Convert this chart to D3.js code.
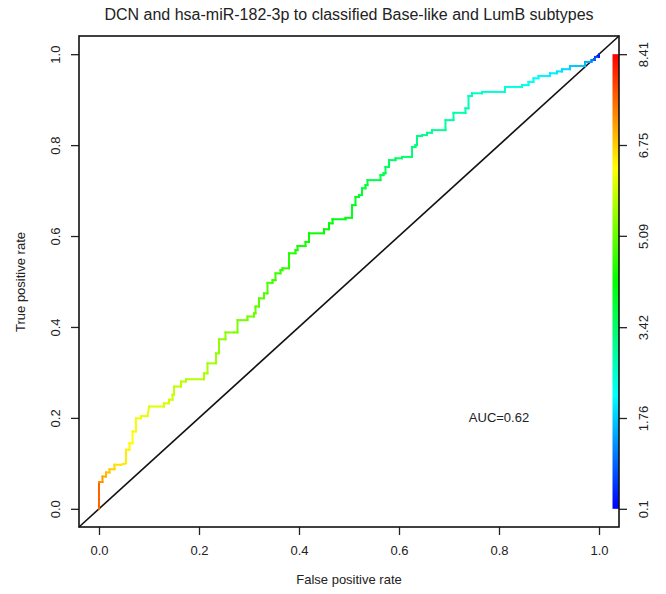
<!DOCTYPE html>
<html>
<head>
<meta charset="utf-8">
<script src="https://cdn.jsdelivr.net/npm/d3@7"></script>
<style>
  body { margin: 0; background: #fff; }
  svg text { font-family: "Liberation Sans", Arial, sans-serif; fill: #222; }
</style>
</head>
<body>
<svg width="666" height="594"></svg>
<script>
// ROC points (fpr, tpr, cutoff at each vertex)
const fpr = [0, 0, 0.007, 0.007, 0.014, 0.014, 0.021, 0.021, 0.031, 0.031,
  0.044, 0.054, 0.054, 0.061, 0.061, 0.067, 0.067, 0.074, 0.074, 0.084,
  0.084, 0.097, 0.100, 0.130, 0.130, 0.140, 0.140, 0.147, 0.147, 0.150,
  0.150, 0.164, 0.164, 0.174, 0.174, 0.210, 0.210, 0.217, 0.217, 0.234,
  0.234, 0.240, 0.240, 0.253, 0.253, 0.270, 0.277, 0.277, 0.297, 0.297,
  0.310, 0.310, 0.313, 0.313, 0.320, 0.320, 0.330, 0.330, 0.337, 0.337,
  0.347, 0.347, 0.353, 0.353, 0.363, 0.363, 0.367, 0.367, 0.380, 0.380,
  0.393, 0.393, 0.397, 0.397, 0.413, 0.413, 0.420, 0.420, 0.450, 0.450,
  0.460, 0.460, 0.467, 0.467, 0.493, 0.493, 0.506, 0.506, 0.513, 0.513,
  0.520, 0.520, 0.526, 0.526, 0.533, 0.533, 0.537, 0.537, 0.563, 0.563,
  0.569, 0.569, 0.573, 0.573, 0.580, 0.580, 0.593, 0.593, 0.606, 0.606,
  0.626, 0.626, 0.633, 0.633, 0.636, 0.636, 0.646, 0.646, 0.656, 0.656,
  0.666, 0.666, 0.693, 0.693, 0.709, 0.709, 0.733, 0.733, 0.739, 0.739,
  0.746, 0.746, 0.766, 0.766, 0.812, 0.812, 0.846, 0.846, 0.859, 0.859,
  0.869, 0.869, 0.879, 0.879, 0.902, 0.902, 0.916, 0.916, 0.926, 0.926,
  0.942, 0.942, 0.972, 0.972, 0.985, 0.985, 0.992, 0.992, 1.000, 1.000];
const tpr = [0, 0.059, 0.059, 0.071, 0.071, 0.080, 0.080, 0.087, 0.087, 0.097,
  0.097, 0.100, 0.130, 0.130, 0.144, 0.144, 0.170, 0.170, 0.199, 0.199,
  0.204, 0.204, 0.225, 0.225, 0.232, 0.232, 0.240, 0.240, 0.251, 0.251,
  0.269, 0.269, 0.280, 0.280, 0.285, 0.285, 0.298, 0.298, 0.320, 0.320,
  0.342, 0.342, 0.373, 0.373, 0.388, 0.388, 0.388, 0.415, 0.415, 0.423,
  0.423, 0.430, 0.430, 0.445, 0.445, 0.463, 0.463, 0.474, 0.474, 0.497,
  0.497, 0.503, 0.503, 0.518, 0.518, 0.525, 0.525, 0.529, 0.529, 0.562,
  0.562, 0.569, 0.569, 0.578, 0.578, 0.587, 0.587, 0.606, 0.606, 0.615,
  0.615, 0.628, 0.628, 0.637, 0.637, 0.640, 0.640, 0.668, 0.668, 0.686,
  0.686, 0.690, 0.690, 0.705, 0.705, 0.712, 0.712, 0.723, 0.723, 0.734,
  0.734, 0.738, 0.738, 0.752, 0.752, 0.767, 0.767, 0.771, 0.771, 0.774,
  0.774, 0.796, 0.796, 0.800, 0.800, 0.820, 0.820, 0.822, 0.822, 0.827,
  0.827, 0.833, 0.833, 0.855, 0.855, 0.871, 0.871, 0.881, 0.881, 0.908,
  0.908, 0.914, 0.914, 0.917, 0.917, 0.928, 0.928, 0.932, 0.932, 0.939,
  0.939, 0.947, 0.947, 0.952, 0.952, 0.958, 0.958, 0.962, 0.962, 0.967,
  0.967, 0.974, 0.974, 0.983, 0.983, 0.987, 0.987, 0.994, 0.994, 1.000];
const cutoff = [7.9, 7.3, 7.2, 7.1, 7.0, 6.9, 6.8, 6.75, 6.7, 6.6,
  6.55, 6.5, 6.45, 6.4, 6.38, 6.35, 6.3, 6.27, 6.24, 6.2,
  6.17, 6.14, 6.1, 6.05, 6.02, 5.99, 5.96, 5.93, 5.9, 5.88,
  5.85, 5.82, 5.79, 5.76, 5.73, 5.7, 5.66, 5.62, 5.58, 5.54,
  5.5, 5.46, 5.42, 5.38, 5.34, 5.3, 5.27, 5.24, 5.2, 5.17,
  5.14, 5.11, 5.08, 5.05, 5.02, 4.99, 4.96, 4.93, 4.9, 4.87,
  4.84, 4.81, 4.78, 4.75, 4.72, 4.69, 4.66, 4.63, 4.6, 4.57,
  4.54, 4.51, 4.48, 4.45, 4.42, 4.39, 4.36, 4.33, 4.3, 4.27,
  4.24, 4.21, 4.18, 4.15, 4.12, 4.09, 4.06, 4.03, 4.0, 3.97,
  3.94, 3.91, 3.88, 3.85, 3.82, 3.79, 3.76, 3.73, 3.7, 3.67,
  3.64, 3.61, 3.58, 3.55, 3.52, 3.49, 3.46, 3.43, 3.4, 3.37,
  3.34, 3.31, 3.28, 3.25, 3.22, 3.19, 3.16, 3.13, 3.1, 3.07,
  3.04, 3.01, 2.98, 2.95, 2.92, 2.89, 2.86, 2.83, 2.8, 2.76,
  2.72, 2.68, 2.64, 2.6, 2.55, 2.5, 2.45, 2.4, 2.35, 2.3,
  2.26, 2.22, 2.18, 2.14, 2.1, 2.06, 2.02, 1.98, 1.94, 1.9,
  1.85, 1.8, 1.7, 1.55, 1.4, 1.2, 1.0, 0.8, 0.5, 0.1];

const axisTicks = [0, 0.2, 0.4, 0.6, 0.8, 1.0];
const cutoffTicks = [0.1, 1.76, 3.42, 5.09, 6.75, 8.41];
const aucLabel = "AUC=0.62";

const svg = d3.select("svg");

// scales (R style 4% padding)
const x = d3.scaleLinear().domain([-0.04, 1.04]).range([79, 619]);
const y = d3.scaleLinear().domain([-0.04, 1.04]).range([527, 36]);
const cb = d3.scaleLinear().domain([0.1, 8.41]).range([y(0), y(1)]);

// rainbow: high cutoff red, low cutoff blue
const hue = d3.scaleLinear().domain([8.41, 0.1]).range([0, 240]).clamp(true);
const color = (v) => d3.hsl(hue(v), 1, 0.5).formatHex();

// title
svg.append("text")
  .attr("x", 349).attr("y", 20)
  .attr("text-anchor", "middle")
  .style("font-size", "16px")
  .text("DCN and hsa-miR-182-3p to classified Base-like and LumB subtypes");

// axis labels
svg.append("text")
  .attr("x", 349).attr("y", 584)
  .attr("text-anchor", "middle")
  .style("font-size", "13px")
  .text("False positive rate");

svg.append("text")
  .attr("transform", "translate(25,282) rotate(-90)")
  .attr("text-anchor", "middle")
  .style("font-size", "13px")
  .text("True positive rate");

// x axis
const gx = svg.append("g")
  .attr("transform", "translate(0,527)")
  .call(d3.axisBottom(x).tickValues(axisTicks).tickFormat(d3.format(".1f")).tickSize(8).tickPadding(11));
gx.select(".domain").remove();
gx.selectAll("line").attr("stroke", "#222").attr("stroke-width", 1.3);
gx.selectAll("text").style("font-size", "13px").attr("fill", "#222");

// y axis
const gy = svg.append("g")
  .attr("transform", "translate(79,0)")
  .call(d3.axisLeft(y).tickValues(axisTicks).tickFormat(d3.format(".1f")).tickSize(8));
gy.select(".domain").remove();
gy.selectAll("line").attr("stroke", "#222").attr("stroke-width", 1.3);
gy.selectAll("text")
  .attr("x", null).attr("dy", null)
  .attr("transform", "translate(-19.5,0) rotate(-90)")
  .attr("text-anchor", "middle")
  .style("font-size", "13px").attr("fill", "#222");

// colour bar
const grad = svg.append("defs").append("linearGradient")
  .attr("id", "rainbow")
  .attr("x1", 0).attr("y1", 1).attr("x2", 0).attr("y2", 0);
grad.selectAll("stop")
  .data([240, 180, 120, 60, 0])
  .enter().append("stop")
    .attr("offset", (d, i) => i / 4)
    .attr("stop-color", (d) => d3.hsl(d, 1, 0.5).formatHex());

svg.append("rect")
  .attr("x", 612.5).attr("y", cb(8.41))
  .attr("width", 6.5).attr("height", cb(0.1) - cb(8.41))
  .attr("fill", "url(#rainbow)");

const gc = svg.append("g")
  .attr("transform", "translate(619,0)")
  .call(d3.axisRight(cb).tickValues(cutoffTicks).tickFormat((d) => d).tickSize(8));
gc.select(".domain").remove();
gc.selectAll("line").attr("stroke", "#222").attr("stroke-width", 1.3);
gc.selectAll("text")
  .attr("x", null).attr("dy", null)
  .attr("transform", "translate(28.5,0) rotate(-90)")
  .attr("text-anchor", "middle")
  .style("font-size", "13px").attr("fill", "#222");

// diagonal reference line
svg.append("line")
  .attr("x1", x(-0.04)).attr("y1", y(-0.04))
  .attr("x2", x(1.04)).attr("y2", y(1.04))
  .attr("stroke", "#111").attr("stroke-width", 1.6);

// ROC curve, each segment coloured by cutoff
const segs = d3.range(fpr.length - 1);
svg.append("g")
  .selectAll("line")
  .data(segs)
  .enter().append("line")
    .attr("x1", (i) => x(fpr[i]))
    .attr("y1", (i) => y(tpr[i]))
    .attr("x2", (i) => x(fpr[i + 1]))
    .attr("y2", (i) => y(tpr[i + 1]))
    .attr("stroke", (i) => color((cutoff[i] + cutoff[i + 1]) / 2))
    .attr("stroke-width", 2)
    .attr("stroke-linecap", "square");

// AUC label
svg.append("text")
  .attr("x", x(0.8)).attr("y", y(0.2))
  .attr("dy", "0.35em")
  .attr("text-anchor", "middle")
  .style("font-size", "13px")
  .text(aucLabel);

// plot box
svg.append("rect")
  .attr("x", 79).attr("y", 36)
  .attr("width", 540).attr("height", 491)
  .attr("fill", "none")
  .attr("stroke", "#111")
  .attr("stroke-width", 1.6);
</script>
</body>
</html>
